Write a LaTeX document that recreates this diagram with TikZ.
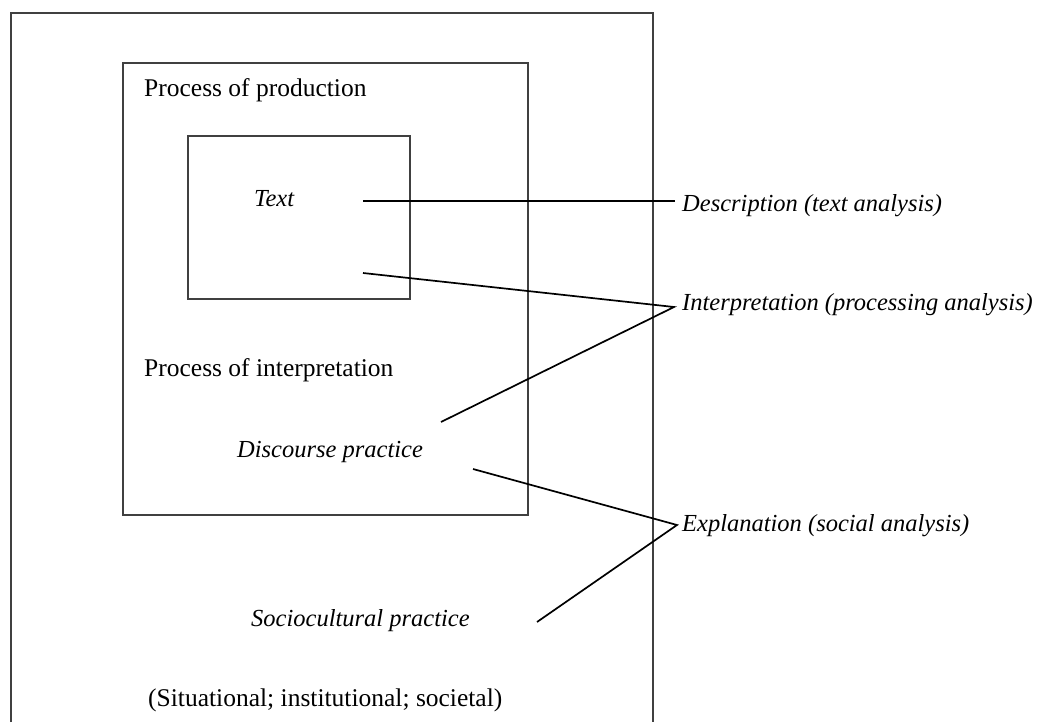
\documentclass[tikz,border=0pt]{standalone}
\usepackage{fontspec}
\setmainfont{Liberation Serif}
\usetikzlibrary{positioning}

\begin{document}
\begin{tikzpicture}[x=1pt,y=-1pt,
		frame/.style={draw=black!75,line width=1.5pt},
		link/.style={draw=black,line width=1.7pt,line join=miter},
		plain/.style={anchor=base west,inner sep=0pt,font=\fontsize{25.5}{30}\selectfont},
		slant/.style={anchor=base west,inner sep=0pt,font=\fontsize{24.5}{30}\selectfont\itshape}]
			\useasboundingbox (0,0) rectangle (1040,722);
			\draw[frame] (11,722) |- (653,13) -- (653,722);
			\draw[frame] (123,63) rectangle (528,515);
			\draw[frame] (188,136) rectangle (410,299);
			\node[plain] (prod) at (144,97) {Process of production};
			\node[slant] (text) at (254,206) {Text};
			\node[plain] (interp) at (144,376) {Process of interpretation};
			\node[slant] (disc) at (237,457) {Discourse practice};
			\node[slant] (socio) at (251,626) {Sociocultural practice};
			\node[plain] (sit) at (148,706) {(Situational; institutional; societal)};
			\node[slant] (descr) at (682,211) {Description (text analysis)};
			\node[slant] (proc) at (682,310) {Interpretation (processing analysis)};
			\node[slant] (expl) at (682,531) {Explanation (social analysis)};
			\coordinate (text-a) at (363,201);
			\coordinate (text-b) at (363,273);
			\coordinate (disc-a) at (441,422);
			\coordinate (disc-b) at (473,469);
			\coordinate (socio-a) at (537,622);
			\coordinate (descr-tip) at (675,201);
			\coordinate (proc-tip) at (674,307);
			\coordinate (expl-tip) at (677,525);
			\draw[link] (text-a) -- (descr-tip);
			\draw[link] (text-b) -- (proc-tip) -- (disc-a);
			\draw[link] (disc-b) -- (expl-tip) -- (socio-a);
\end{tikzpicture}
\end{document}
